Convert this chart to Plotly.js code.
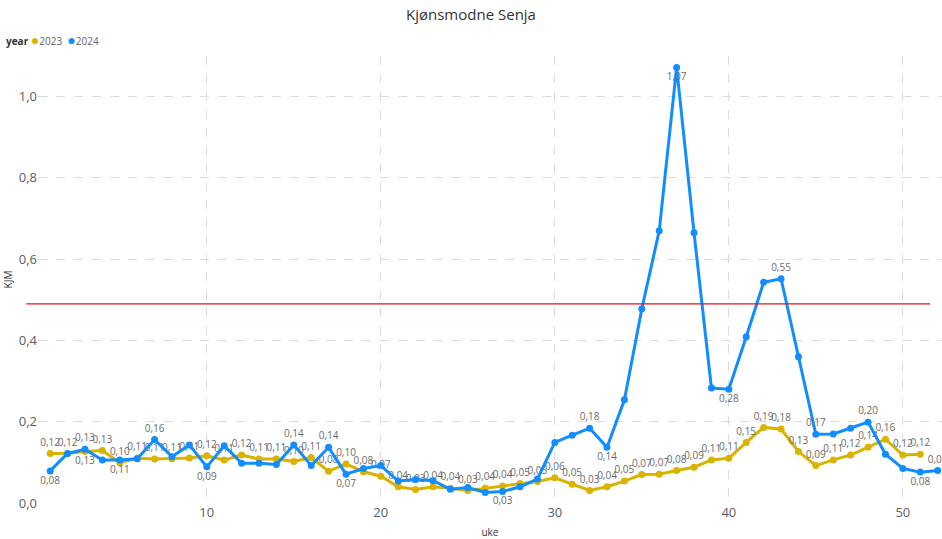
<!DOCTYPE html>
<html>
<head>
<meta charset="utf-8">
<script src="https://cdn.plot.ly/plotly-3.0.1.min.js"></script>
<style>html,body{margin:0;padding:0;background:#fff;}#chart{width:942px;height:539px;}</style>
</head>
<body>
<div id="chart"></div>
<script>
// ---- data ----
const weeks2023 = [1,2,3,4,5,6,7,8,9,10,11,12,13,14,15,16,17,18,19,20,21,22,23,24,25,26,27,28,29,30,31,32,33,34,35,36,37,38,39,40,41,42,43,44,45,46,47,48,49,50,51];
const kjm2023 = [0.122,0.122,0.127,0.129,0.099,0.110,0.108,0.109,0.111,0.116,0.106,0.118,0.108,0.108,0.102,0.112,0.078,0.096,0.077,0.066,0.040,0.033,0.040,0.036,0.031,0.036,0.042,0.048,0.053,0.062,0.046,0.031,0.040,0.054,0.070,0.071,0.080,0.088,0.106,0.110,0.149,0.186,0.182,0.127,0.092,0.106,0.118,0.137,0.157,0.118,0.120];
const weeks2024 = [1,2,3,4,5,6,7,8,9,10,11,12,13,14,15,16,17,18,19,20,21,22,23,24,25,26,27,28,29,30,31,32,33,34,35,36,37,38,39,40,41,42,43,44,45,46,47,48,49,50,51,52];
const kjm2024 = [0.079,0.122,0.132,0.106,0.106,0.109,0.156,0.114,0.143,0.089,0.141,0.098,0.098,0.095,0.143,0.092,0.137,0.071,0.085,0.092,0.054,0.058,0.055,0.034,0.038,0.026,0.028,0.040,0.059,0.149,0.167,0.184,0.137,0.254,0.478,0.670,1.072,0.665,0.283,0.280,0.409,0.543,0.552,0.360,0.169,0.170,0.184,0.199,0.120,0.085,0.076,0.080];
// which weeks show a data label, and where (above / below)
const labels2023Below = [3];
const labels2024Above = [3,7,15,17,32,43,45,48,52];
const labels2024Below = [1,5,10,18,27,33,37,40,51];
const threshold = 0.49;
const seriesNames = ['2023','2024'];
const legendTitle = 'year';
const xTicks = [10,20,30,40,50];
const yTicks = [0,0.2,0.4,0.6,0.8,1.0];

const fmt = v => v.toFixed(2).replace('.', ',');
const gold = '#D9B300', blue = '#118DFF';
const font = 'Segoe UI, Open Sans, sans-serif';
const labelFont = {family:font, size:10, color:'#6b6b6b'};

const t2023 = {
  x: weeks2023, y: kjm2023, name: seriesNames[0], type:'scatter', mode:'lines+markers+text',
  line:{color:gold, width:3}, marker:{color:gold, size:7},
  text: kjm2023.map(fmt),
  textposition: weeks2023.map(w => labels2023Below.includes(w) ? 'bottom center' : 'top center'),
  textfont: labelFont, showlegend:false, cliponaxis:false, hoverinfo:'x+y'
};
const t2024 = {
  x: weeks2024, y: kjm2024, name: seriesNames[1], type:'scatter', mode:'lines+markers+text',
  line:{color:blue, width:3}, marker:{color:blue, size:7},
  text: weeks2024.map((w,i) => (labels2024Above.includes(w) || labels2024Below.includes(w)) ? fmt(kjm2024[i]) : ''),
  textposition: weeks2024.map(w => labels2024Below.includes(w) ? 'bottom center' : 'top center'),
  textfont: labelFont, showlegend:false, cliponaxis:false, hoverinfo:'x+y'
};

const legendText = '<b style="color:#333">' + legendTitle + '</b> ' +
  '<span style="color:' + gold + ';font-size:14px">●</span>' + seriesNames[0] + '  ' +
  '<span style="color:' + blue + ';font-size:14px">●</span>' + seriesNames[1];

const layout = {
  width: 942, height: 539,
  margin: {l:38, r:0, t:56, b:36},
  paper_bgcolor:'#fff', plot_bgcolor:'#fff',
  separators: ', ',
  font: {family: font, color:'#605E5C'},
  title: {text:'Kjønsmodne Senja', x:0.5, xref:'container', xanchor:'center', y:0.982, yref:'container',
          font:{family:font, size:15, color:'#333'}},
  showlegend: false,
  annotations: [{text: legendText, xref:'paper', yref:'paper', x:-0.0376, y:1.0358,
                 xanchor:'left', yanchor:'middle', showarrow:false,
                 font:{family:font, size:10, color:'#666'}}],
  xaxis: {range:[0.3, 52.25], tickvals:xTicks, ticktext:xTicks.map(String),
          showgrid:true, gridcolor:'#dcdcdc', griddash:'dash', gridwidth:1,
          zeroline:false, showline:false, ticks:'',
          tickfont:{family:font, size:13, color:'#605E5C'},
          title:{text:'uke', font:{family:font, size:10, color:'#333'}, standoff:10}},
  yaxis: {range:[0, 1.1], tickvals:yTicks, ticktext:yTicks.map(v => v.toFixed(1).replace('.', ',')),
          showgrid:true, gridcolor:'#dcdcdc', griddash:'dash', gridwidth:1,
          zeroline:false, showline:false, ticks:'',
          tickfont:{family:font, size:13, color:'#605E5C'},
          title:{text:'KJM', font:{family:font, size:10, color:'#333'}, standoff:4}},
  shapes: [{type:'line', xref:'paper', yref:'y', x0:-0.013, x1:0.987, y0:threshold, y1:threshold,
            line:{color:'#E81123', width:1.2}, layer:'above'}]
};
Plotly.newPlot('chart', [t2023, t2024], layout, {staticPlot:true, displayModeBar:false});
</script>
</body>
</html>
